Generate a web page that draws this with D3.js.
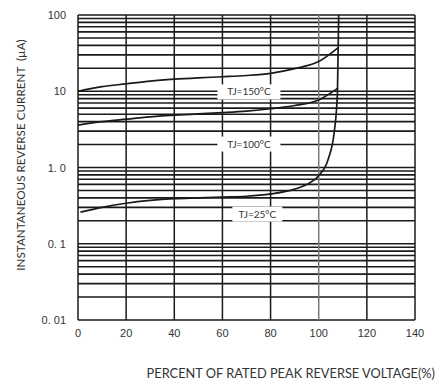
<!DOCTYPE html>
<html>
<head>
<meta charset="utf-8">
<script src="https://cdn.jsdelivr.net/npm/d3@7"></script>
<style>
  body { margin: 0; background: #fff; }
  svg text { fill: #333; }
</style>
</head>
<body>
<svg id="chart" width="440" height="383"></svg>
<script>
// curve data
const pct150 = [0, 10, 20, 30, 40, 50, 60, 70, 80, 90, 100, 108];
const cur150 = [10, 11.5, 12.5, 13.6, 14.4, 15.0, 15.5, 16.1, 17.2, 19.8, 24.5, 37];
const pct100 = [0, 10, 20, 30, 40, 50, 60, 70, 80, 90, 100, 108];
const cur100 = [3.6, 4.0, 4.3, 4.6, 4.85, 5.05, 5.25, 5.5, 5.9, 6.5, 7.7, 11];
const pct25 = [1, 10, 20, 30, 40, 50, 60, 70, 80, 90, 95, 100, 104, 106.5, 107.8, 108.3];
const cur25 = [0.26, 0.3, 0.34, 0.37, 0.39, 0.4, 0.41, 0.42, 0.45, 0.52, 0.6, 0.78, 1.3, 3, 10, 100];

const xTicks = [0, 20, 40, 60, 80, 100, 120, 140];
const yTicks = [100, 10, 1, 0.1, 0.01];
const yTickLabels = ['100', '10', '1. 0', '0. 1', '0. 01'];

const labelText = ['TJ=150°C', 'TJ=100°C', 'TJ=25°C'];
const labelPct = [71, 71, 74.5];
const labelCur = [9.8, 2.03, 0.245];

const svg = d3.select('#chart');
const mLeft = 78, mRight = 415, mTop = 15, mBottom = 320;

const x = d3.scaleLinear().domain([0, 140]).range([mLeft, mRight]);
const y = d3.scaleLog().domain([0.01, 100]).range([mBottom, mTop]);

// grid
const grid = svg.append('g');
const minor = [];
[0.01, 0.1, 1, 10].forEach(d => {
  for (let k = 1; k <= 9; k++) minor.push(d * k);
});
minor.push(100);

grid.selectAll('.h')
  .data(minor)
  .enter()
  .append('line')
  .attr('x1', mLeft)
  .attr('x2', mRight)
  .attr('y1', d => y(d))
  .attr('y2', d => y(d))
  .attr('stroke', '#1a1a1a')
  .attr('stroke-width', 1.6);

grid.selectAll('.v')
  .data(xTicks)
  .enter()
  .append('line')
  .attr('x1', d => x(d))
  .attr('x2', d => x(d))
  .attr('y1', mTop)
  .attr('y2', mBottom)
  .attr('stroke', d => (d === 100 ? '#777' : '#1a1a1a'))
  .attr('stroke-width', 1.5);

// white boxes behind the temperature labels
const labels = svg.append('g');
labelText.forEach((t, i) => {
  const cx = x(labelPct[i]);
  const cy = y(labelCur[i]);
  const w = i === 2 ? 50 : 63;
  labels.append('rect')
    .attr('x', cx - w / 2)
    .attr('y', cy - 7.5)
    .attr('width', w)
    .attr('height', 15)
    .attr('fill', '#fff');
  labels.append('text')
    .attr('x', cx)
    .attr('y', cy + 3.5)
    .attr('text-anchor', 'middle')
    .attr('font-family', 'Lato, sans-serif')
    .attr('font-size', 10)
    .text(t);
});

// curves
const line = d3.line()
  .x(d => x(d[0]))
  .y(d => y(d[1]))
  .curve(d3.curveMonotoneX);

[[pct150, cur150], [pct100, cur100], [pct25, cur25]].forEach(([p, c]) => {
  svg.append('path')
    .datum(d3.zip(p, c))
    .attr('d', line)
    .attr('fill', 'none')
    .attr('stroke', '#1a1a1a')
    .attr('stroke-width', 1.7);
});

// y tick labels
svg.append('g')
  .selectAll('text')
  .data(yTicks)
  .enter()
  .append('text')
  .attr('x', 66)
  .attr('y', d => y(d) + 4)
  .attr('text-anchor', 'end')
  .attr('font-family', 'Liberation Sans, Arial, sans-serif')
  .attr('font-size', 11)
  .text((d, i) => yTickLabels[i]);

// x tick labels
svg.append('g')
  .selectAll('text')
  .data(xTicks)
  .enter()
  .append('text')
  .attr('x', d => x(d))
  .attr('y', 337)
  .attr('text-anchor', 'middle')
  .attr('font-family', 'Liberation Sans, Arial, sans-serif')
  .attr('font-size', 11)
  .text(d => d);

// axis titles
svg.append('text')
  .attr('transform', 'translate(25,155) rotate(-90)')
  .attr('text-anchor', 'middle')
  .attr('font-family', 'Lato, sans-serif')
  .attr('font-size', 11.7)
  .attr('xml:space', 'preserve')
  .text('INSTANTANEOUS REVERSE CURRENT  (µA)');

svg.append('text')
  .attr('x', 435)
  .attr('y', 378)
  .attr('text-anchor', 'end')
  .attr('font-family', 'Lato, sans-serif')
  .attr('font-size', 12.8)
  .text('PERCENT OF RATED PEAK REVERSE VOLTAGE(%)');
</script>
</body>
</html>
